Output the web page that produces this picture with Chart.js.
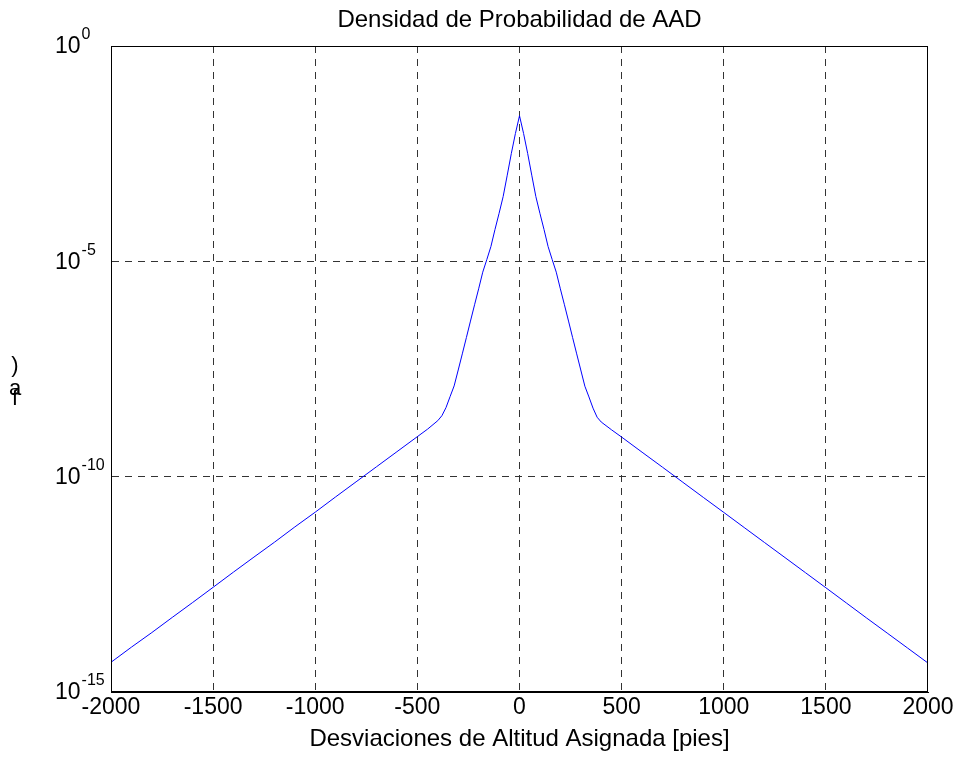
<!DOCTYPE html>
<html>
<head>
<meta charset="utf-8">
<script src="https://cdn.jsdelivr.net/npm/chart.js@4.4.0/dist/chart.umd.min.js"></script>
<style>
  body { margin: 0; background: #fff; }
  canvas { display: block; }
</style>
</head>
<body>
<canvas id="aad_chart" width="958" height="759"></canvas>
<script>
let chart_title = "Densidad de Probabilidad de AAD";
let x_title = "Desviaciones de Altitud Asignada [pies]";
let y_title_chars = ["f", "a", ")"];

let x_ticks = [-2000, -1500, -1000, -500, 0, 500, 1000, 1500, 2000];
let y_ticks = [1e-15, 1e-10, 1e-5, 1];

// deviation from assigned altitude (ft) and its probability density
let deviation_ft = [
  -2000, -1900, -1800, -1700, -1600, -1500, -1400, -1300, -1200, -1100,
  -1000, -900, -800, -700, -600, -500, -450, -400, -380, -360,
  -340, -320, -300, -280, -260, -240, -220, -200, -180, -160,
  -140, -120, -100, -80, -60, -40, -20, 0,
  20, 40, 60, 80, 100, 120, 140, 160, 180, 200,
  220, 240, 260, 280, 300, 320, 340, 360, 380, 400,
  450, 500, 600, 700, 800, 900, 1000, 1100, 1200, 1300,
  1400, 1500, 1600, 1700, 1800, 1900, 2000
];
let density = [
  4.9e-15, 1.1e-14, 2.4e-14, 5.4e-14, 1.2e-13, 2.7e-13, 6.1e-13, 1.36e-12, 3.0e-12, 6.8e-12,
  1.5e-11, 3.4e-11, 7.6e-11, 1.7e-10, 3.8e-10, 8.5e-10, 1.27e-9, 2.0e-9, 2.6e-9, 4.0e-9,
  7.2e-9, 1.28e-8, 3.0e-8, 7.1e-8, 1.7e-7, 4.1e-7, 9.8e-7, 2.3e-6, 5.6e-6, 1.1e-5,
  2.2e-5, 5.5e-5, 1.3e-4, 3.2e-4, 1.0e-3, 3.2e-3, 9.3e-3, 2.4e-2,
  9.3e-3, 3.2e-3, 1.0e-3, 3.2e-4, 1.3e-4, 5.5e-5, 2.2e-5, 1.1e-5, 5.6e-6, 2.3e-6,
  9.8e-7, 4.1e-7, 1.7e-7, 7.1e-8, 3.0e-8, 1.26e-8, 7.1e-9, 3.9e-9, 2.4e-9, 1.86e-9,
  1.23e-9, 8.3e-10, 3.7e-10, 1.66e-10, 7.4e-11, 3.3e-11, 1.48e-11, 6.6e-12, 2.95e-12, 1.32e-12,
  5.9e-13, 2.63e-13, 1.17e-13, 5.2e-14, 2.34e-14, 1.05e-14, 4.7e-15
];

const font_family = "'Liberation Sans', Arial, sans-serif";
const font_size = 23;
const title_size = 24;
const grid_color = "#333";

Chart.defaults.font.family = font_family;
Chart.defaults.color = "#000";

// inner grid only, the frame is drawn by the plugin
const x_grid_color = c => (c.tick && Math.abs(c.tick.value) === 2000) ? "rgba(0,0,0,0)" : grid_color;
const y_grid_color = c => (c.tick && (c.tick.value === 1 || c.tick.value === 1e-15)) ? "rgba(0,0,0,0)" : grid_color;

// box, power-of-ten labels and the stacked y label
const axes_extras = {
  id: "axes_extras",
  afterDraw(chart) {
    const ctx = chart.ctx;
    const area = chart.chartArea;
    const y_scale = chart.scales.y;
    ctx.save();

    const l = Math.round(area.left), t = Math.round(area.top);
    const r = Math.round(area.right), b = Math.round(area.bottom);
    ctx.strokeStyle = "#000";
    ctx.lineWidth = 1;
    ctx.setLineDash([]);
    ctx.strokeRect(l + 0.5, t + 0.5, r - l - 1, b - t - 1);

    ctx.fillStyle = "#000";
    ctx.textAlign = "left";
    ctx.textBaseline = "middle";
    y_ticks.forEach(v => {
      const y = y_scale.getPixelForValue(v);
      const exponent = String(Math.round(Math.log10(v)));
      ctx.font = font_size + "px " + font_family;
      ctx.fillText("10", 55, y + 1);
      const w = ctx.measureText("10").width;
      ctx.font = "16px " + font_family;
      ctx.fillText(exponent, 55 + w + 1, y - 11);
    });

    ctx.font = "22px " + font_family;
    ctx.textAlign = "center";
    ctx.fillText(y_title_chars[0], 15, 399);
    ctx.fillText(y_title_chars[1], 15, 389);
    ctx.fillText(y_title_chars[2], 15, 366);
    ctx.restore();
  }
};

new Chart("aad_chart", {
  type: "line",
  data: {
    labels: deviation_ft,
    datasets: [{
      data: deviation_ft.map((x, i) => ({ x: x, y: density[i] })),
      borderColor: "#0000ff",
      borderWidth: 1,
      pointRadius: 0,
      tension: 0,
      fill: false
    }]
  },
  options: {
    responsive: false,
    animation: false,
    devicePixelRatio: 1,
    layout: { padding: { left: 0, right: 30, top: 0, bottom: 0 } },
    plugins: {
      legend: { display: false },
      tooltip: { enabled: false },
      title: {
        display: true,
        text: chart_title,
        fullSize: false,
        color: "#000",
        font: { size: title_size, weight: "normal", lineHeight: 1.2 },
        padding: { top: 6.2, bottom: 11 }
      }
    },
    scales: {
      x: {
        type: "linear",
        min: -2000,
        max: 2000,
        afterBuildTicks: scale => { scale.ticks = x_ticks.map(v => ({ value: v })); },
        afterFit: scale => { scale.height = 67; },
        ticks: {
          color: "#000",
          font: { size: font_size },
          padding: 2,
          maxRotation: 0,
          callback: v => String(v)
        },
        grid: { color: x_grid_color, drawTicks: false },
        border: { display: true, color: "#000", dash: [7, 6] },
        title: {
          display: true,
          text: x_title,
          color: "#000",
          font: { size: title_size },
          padding: { top: 0, bottom: 5 }
        }
      },
      y: {
        type: "logarithmic",
        min: 1e-15,
        max: 1,
        afterBuildTicks: scale => { scale.ticks = y_ticks.map(v => ({ value: v })); },
        afterFit: scale => { scale.width = 111; },
        ticks: { display: false },
        grid: { color: y_grid_color, drawTicks: false },
        border: { display: true, color: "#000", dash: [7, 6] }
      }
    }
  },
  plugins: [axes_extras]
});
</script>
</body>
</html>
